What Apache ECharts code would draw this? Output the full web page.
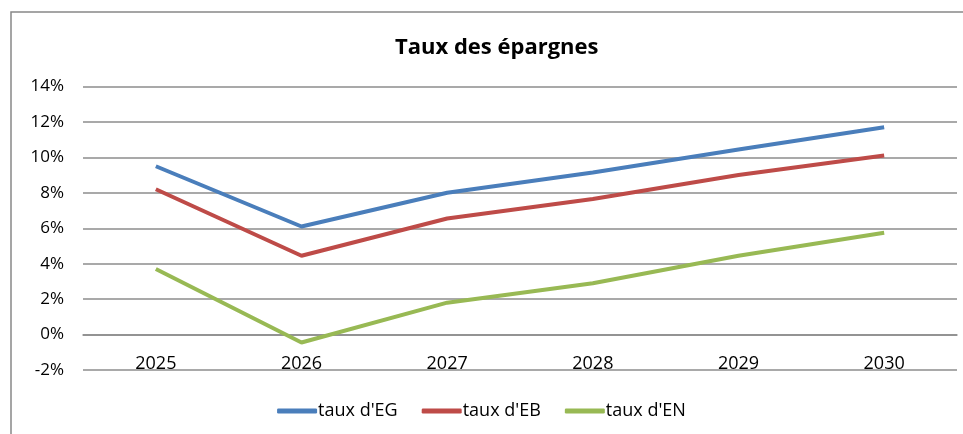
<!DOCTYPE html>
<html>
<head>
<meta charset="utf-8">
<script src="https://cdn.jsdelivr.net/npm/echarts@6/dist/echarts.min.js"></script>
<style>
  html, body { margin: 0; padding: 0; background: #fff; }
  #chart { width: 963px; height: 434px; }
</style>
</head>
<body>
<div id="chart"></div>
<script>
const years = ['2025', '2026', '2027', '2028', '2029', '2030']
const tauxEG = [9.5, 6.1, 8.0, 9.15, 10.45, 11.7]
const tauxEB = [8.2, 4.45, 6.55, 7.65, 9.0, 10.1]
const tauxEN = [3.7, -0.45, 1.8, 2.9, 4.45, 5.75]
const seriesNames = ["taux d'EG", "taux d'EB", "taux d'EN"]
const colors = ['#4a7ebb', '#be4b48', '#98b954']

const font = '"Open Sans", "Noto Sans", sans-serif'
const chart = echarts.init(document.getElementById('chart'))

const lineSeries = [tauxEG, tauxEB, tauxEN].map((data, i) => ({
  name: seriesNames[i],
  type: 'line',
  data: data,
  symbol: 'none',
  lineStyle: { width: 4, color: colors[i] },
  itemStyle: { color: colors[i] }
}))

chart.setOption({
  animation: false,
  title: {
    text: 'Taux des épargnes',
    left: 390,
    top: 32,
    textStyle: { fontFamily: font, fontSize: 22, fontWeight: 'bold', color: '#000' }
  },
  graphic: [{
    type: 'rect',
    shape: { x: 11, y: 12, width: 960, height: 440 },
    style: { fill: 'none', stroke: '#888', lineWidth: 1.5 }
  }],
  legend: {
    bottom: 9,
    left: 'center',
    itemWidth: 40,
    itemHeight: 5,
    itemGap: 24,
    icon: 'roundRect',
    textStyle: { fontFamily: font, fontSize: 18, color: '#000', padding: [0, 0, 0, -4] },
    data: seriesNames
  },
  grid: { left: 83, right: 6, top: 86.5, bottom: 64 },
  xAxis: {
    type: 'category',
    data: years,
    boundaryGap: true,
    // the axis sits on the 0% line, two steps of 17.7px above the bottom
    offset: -35.4,
    axisLine: { onZero: false, lineStyle: { color: '#8c8c8c', width: 1.5 } },
    axisTick: { show: false },
    axisLabel: { fontFamily: font, fontSize: 18, color: '#000', margin: 20 }
  },
  yAxis: {
    type: 'value',
    min: -2,
    max: 14,
    interval: 2,
    axisLine: { show: false },
    axisTick: { show: false },
    axisLabel: {
      fontFamily: font, fontSize: 17, color: '#000', margin: 19,
      formatter: v => v + '%'
    },
    splitLine: { lineStyle: { color: '#8c8c8c', width: 1.5 } }
  },
  series: lineSeries
})
</script>
</body>
</html>
